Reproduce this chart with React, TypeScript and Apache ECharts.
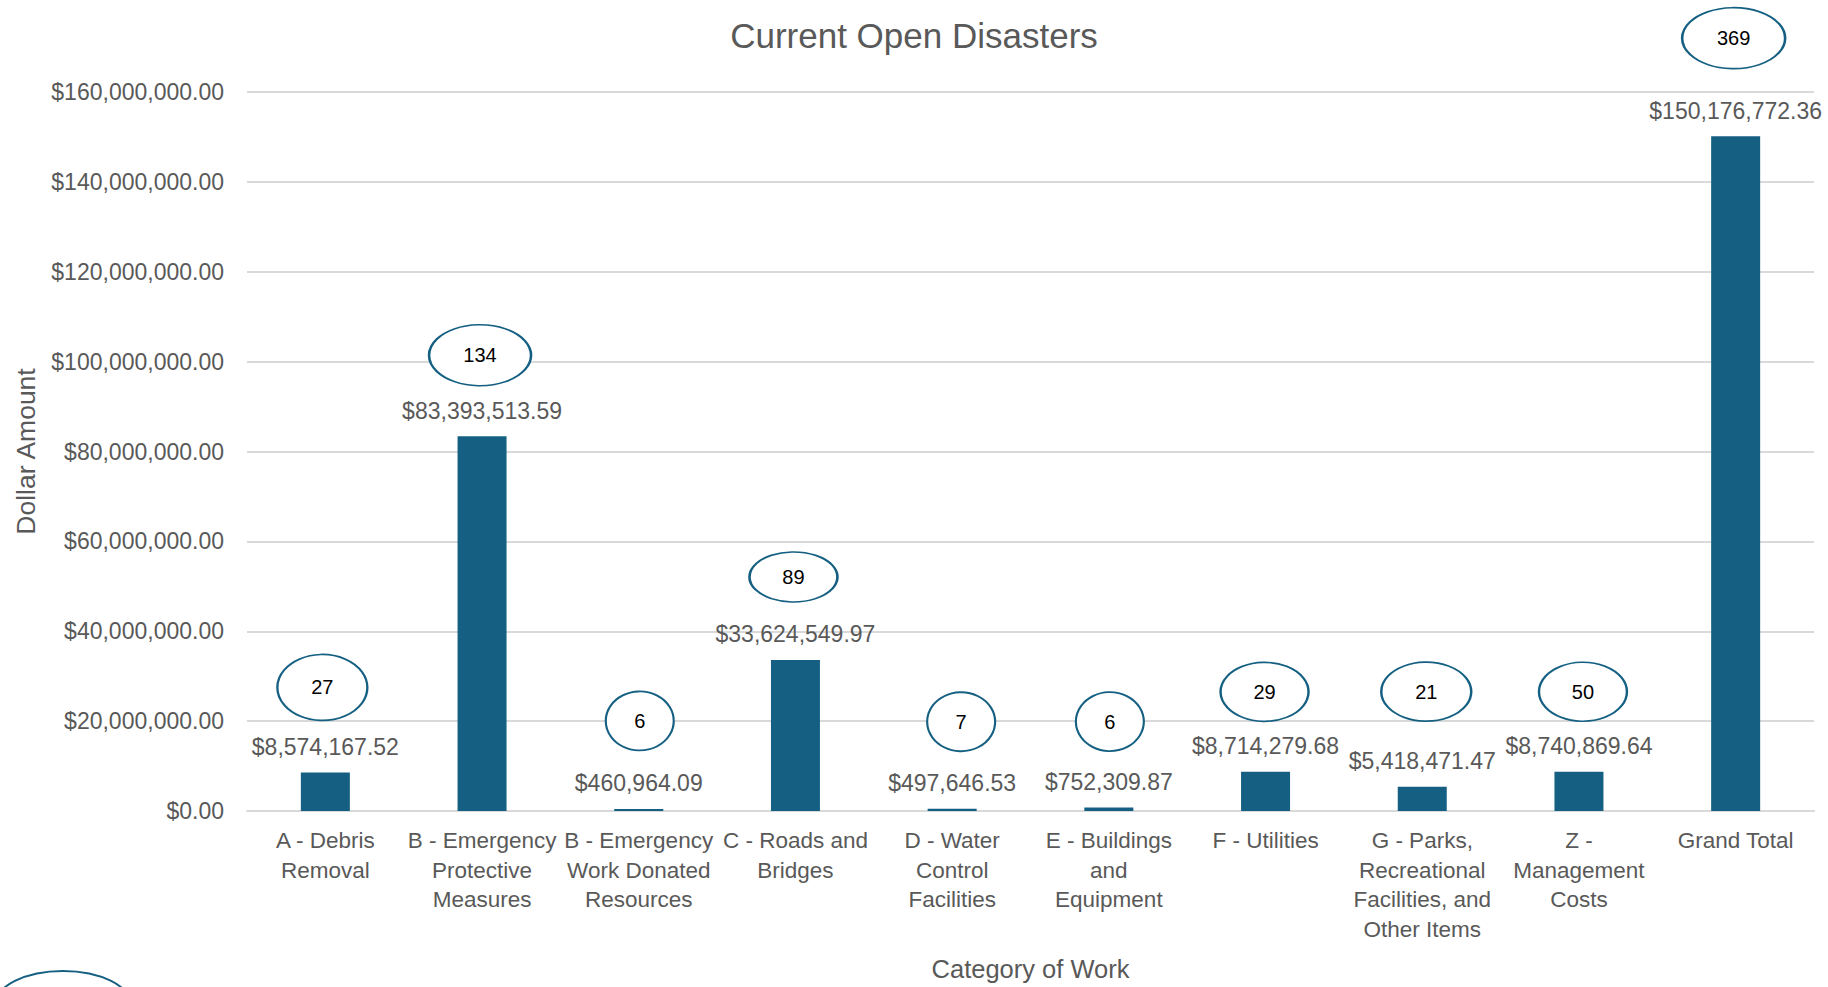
import React, { useEffect, useRef } from 'react';
import * as echarts from 'echarts';

// ---- data ----
const categories: string[] = [
  'A - Debris\nRemoval',
  'B - Emergency\nProtective\nMeasures',
  'B - Emergency\nWork Donated\nResources',
  'C - Roads and\nBridges',
  'D - Water\nControl\nFacilities',
  'E - Buildings\nand\nEquipment',
  'F - Utilities',
  'G - Parks,\nRecreational\nFacilities, and\nOther Items',
  'Z -\nManagement\nCosts',
  'Grand Total',
];
const dollarAmounts: number[] = [
  8574167.52, 83393513.59, 460964.09, 33624549.97, 497646.53,
  752309.87, 8714279.68, 5418471.47, 8740869.64, 150176772.36,
];
const projectCounts: number[] = [27, 134, 6, 89, 7, 6, 29, 21, 50, 369];

const yMin = 0;
const yMax = 160000000;
const yInterval = 20000000;

// ---- callout layout (style only) ----
const calloutSize: [number, number][] = [
  [90, 66], [102, 61], [68, 59], [88, 50], [68, 59],
  [68, 59], [88, 59], [90, 59], [88, 59], [103, 61],
];
const calloutShift: [number, number][] = [
  [-3, -85], [-2, -81], [1, -88], [-2, -83], [9, -87],
  [1, -86], [-1, -80], [4, -95], [4, -80], [-2, -98],
];

const ACCENT = '#156082';
const GRAY = '#595959';
const FONT = '"Liberation Sans", Arial, sans-serif';

const fmtMoney = (v: number) =>
  '$' + v.toLocaleString('en-US', { minimumFractionDigits: 2, maximumFractionDigits: 2 });

export default function App() {
  const ref = useRef<HTMLDivElement>(null);

  useEffect(() => {
    if (!ref.current) return;
    const chart = echarts.init(ref.current, undefined, { renderer: 'svg' });
    chart.setOption({
      animation: false,
      backgroundColor: '#ffffff',
      textStyle: { fontFamily: FONT },
      title: {
        text: 'Current Open Disasters',
        left: 'center',
        top: 13,
        textStyle: { fontSize: 35, fontWeight: 'normal', color: GRAY, fontFamily: FONT },
      },
      grid: { left: 247, right: 14, top: 92, bottom: 170, containLabel: false },
      xAxis: {
        type: 'category',
        data: categories,
        name: 'Category of Work',
        nameLocation: 'middle',
        nameGap: 145,
        nameTextStyle: { fontSize: 25.5, color: GRAY, fontFamily: FONT },
        axisLine: { show: true, lineStyle: { color: '#d9d9d9', width: 2 } },
        axisTick: { show: false },
        axisLabel: {
          interval: 0,
          fontSize: 22.5,
          lineHeight: 29.5,
          color: GRAY,
          margin: 15,
          fontFamily: FONT,
        },
      },
      yAxis: {
        type: 'value',
        min: yMin,
        max: yMax,
        interval: yInterval,
        name: 'Dollar Amount',
        nameLocation: 'middle',
        nameRotate: 90,
        nameGap: 208,
        nameTextStyle: { fontSize: 26.5, color: GRAY, fontFamily: FONT },
        axisLine: { show: false },
        axisTick: { show: false },
        splitLine: { lineStyle: { color: '#d9d9d9', width: 2 } },
        axisLabel: {
          formatter: (v: number) => fmtMoney(v),
          fontSize: 23,
          color: GRAY,
          margin: 23,
          fontFamily: FONT,
        },
      },
      series: [
        {
          type: 'bar',
          data: dollarAmounts,
          barWidth: 49,
          itemStyle: { color: ACCENT },
          label: {
            show: true,
            position: 'top',
            distance: 14,
            formatter: (p: any) => fmtMoney(p.value),
            fontSize: 23,
            color: GRAY,
            fontFamily: FONT,
          },
          z: 2,
        },
        {
          type: 'scatter',
          clip: false,
          z: 5,
          data: dollarAmounts.map((v, i) => ({
            value: [i, v],
            symbolSize: calloutSize[i],
            symbolOffset: calloutShift[i],
          })),
          symbol: 'circle',
          itemStyle: { color: '#ffffff', borderColor: ACCENT, borderWidth: 2, opacity: 1 },
          label: {
            show: true,
            position: 'inside',
            formatter: (p: any) => String(projectCounts[p.dataIndex]),
            fontSize: 20,
            color: '#000000',
            fontFamily: FONT,
          },
          emphasis: { disabled: true },
        },
      ],
      graphic: [
        {
          type: 'ellipse',
          shape: { cx: 63, cy: 1005, rx: 68, ry: 34 },
          style: { fill: '#ffffff', stroke: ACCENT, lineWidth: 2 },
          z: 10,
        },
      ],
    });
    return () => chart.dispose();
  }, []);

  return (
    <div
      ref={ref}
      style={{ position: 'absolute', left: 0, top: 0, width: 1828, height: 987 }}
    />
  );
}
